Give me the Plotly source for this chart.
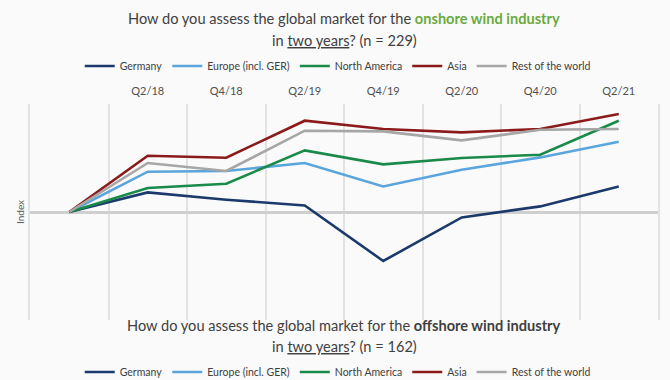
import plotly.graph_objects as go

quarters = ["Q4/17", "Q2/18", "Q4/18", "Q2/19", "Q4/19", "Q2/20", "Q4/20", "Q2/21"]
tick_labels = ["Q2/18", "Q4/18", "Q2/19", "Q4/19", "Q2/20", "Q4/20", "Q2/21"]

germany = [0, 19.6, 12.3, 6.6, -49.0, -5.4, 5.6, 25.6]
europe = [0, 40.3, 41.0, 49.0, 25.6, 42.3, 54.6, 70.3]
north_america = [0, 24.0, 28.3, 61.6, 47.6, 54.0, 57.3, 91.3]
asia = [0, 56.3, 54.3, 91.3, 83.0, 79.6, 83.0, 98.0]
rest_of_world = [0, 49.0, 41.0, 81.3, 80.6, 71.6, 82.3, 83.0]

series_names = ["Germany", "Europe (incl. GER)", "North America", "Asia", "Rest of the world"]
series_values = [germany, europe, north_america, asia, rest_of_world]
colors = ["#1B3A6B", "#5AA5DC", "#1A8A4A", "#8B1A1A", "#A6A6A6"]

FONT = "Lato"
TEXT = "#404040"

x = list(range(len(quarters)))

fig = go.Figure()
for name, vals, col in zip(series_names, series_values, colors):
    fig.add_trace(go.Scatter(x=x, y=vals, mode="lines", name=name,
                             line=dict(color=col, width=2.6), legend="legend",
                             hoverinfo="skip"))
# second (offshore) legend entries
for name, col in zip(series_names, colors):
    fig.add_trace(go.Scatter(x=[None], y=[None], mode="lines", name=name,
                             line=dict(color=col, width=2.6), legend="legend2"))

legend_common = dict(orientation="h", font=dict(family=FONT, size=10.5, color=TEXT),
                     bgcolor="rgba(0,0,0,0)", itemwidth=30, traceorder="normal",
                     xanchor="center", yanchor="middle", x=0.49, tracegroupgap=0)

fig.update_layout(
    width=670, height=380,
    margin=dict(l=30, r=12, t=104, b=60, autoexpand=False),
    paper_bgcolor="#FAFAFA", plot_bgcolor="#FAFAFA",
    font=dict(family=FONT, color=TEXT),
    showlegend=True,
    legend=dict(**legend_common, y=(320 - 66) / 216),
    legend2=dict(**legend_common, y=(320 - 372) / 216),
    xaxis=dict(range=[-0.5, 7.5], side="top", tickmode="array",
               tickvals=list(range(1, 8)), ticktext=tick_labels,
               showgrid=False, zeroline=False, ticks="outside", ticklen=4,
               tickcolor="rgba(0,0,0,0)", automargin=False,
               tickfont=dict(family=FONT, size=11, color="#505050"),
               minor=dict(tick0=-0.5, dtick=1, showgrid=True,
                          gridcolor="#E2E2E2", gridwidth=1.5, ticks="")),
    yaxis=dict(range=[-108, 108], showticklabels=False, showgrid=False,
               zeroline=True, zerolinecolor="#CFCFCF", zerolinewidth=2.5,
               showline=True, mirror=True, linecolor="#E2E2E2", linewidth=1.5,
               automargin=False),
)

def title_ann(y_px, text):
    fig.add_annotation(x=0.5, xref="paper", y=(320 - y_px) / 216, yref="paper",
                       text=text, showarrow=False, xanchor="center", yanchor="middle",
                       font=dict(family=FONT, size=14.6, color=TEXT))

title_ann(18, "How do you assess the global market for the "
              "<b><span style='color:#6AAB3F'>onshore wind industry</span></b>")
title_ann(40, "in <span style='text-decoration:underline'>two years</span>? (n = 229)")
title_ann(325, "How do you assess the global market for the <b>offshore wind industry</b>")
title_ann(346, "in <span style='text-decoration:underline'>two years</span>? (n = 162)")

fig.add_annotation(x=-10 / 628, xref="paper", y=0.5, yref="paper", text="Index",
                   textangle=-90, showarrow=False, xanchor="center", yanchor="middle",
                   font=dict(family=FONT, size=10, color="#595959"))

fig.write_html("out.html", config={"displayModeBar": False},
               post_script="document.body.style.margin='0';")
